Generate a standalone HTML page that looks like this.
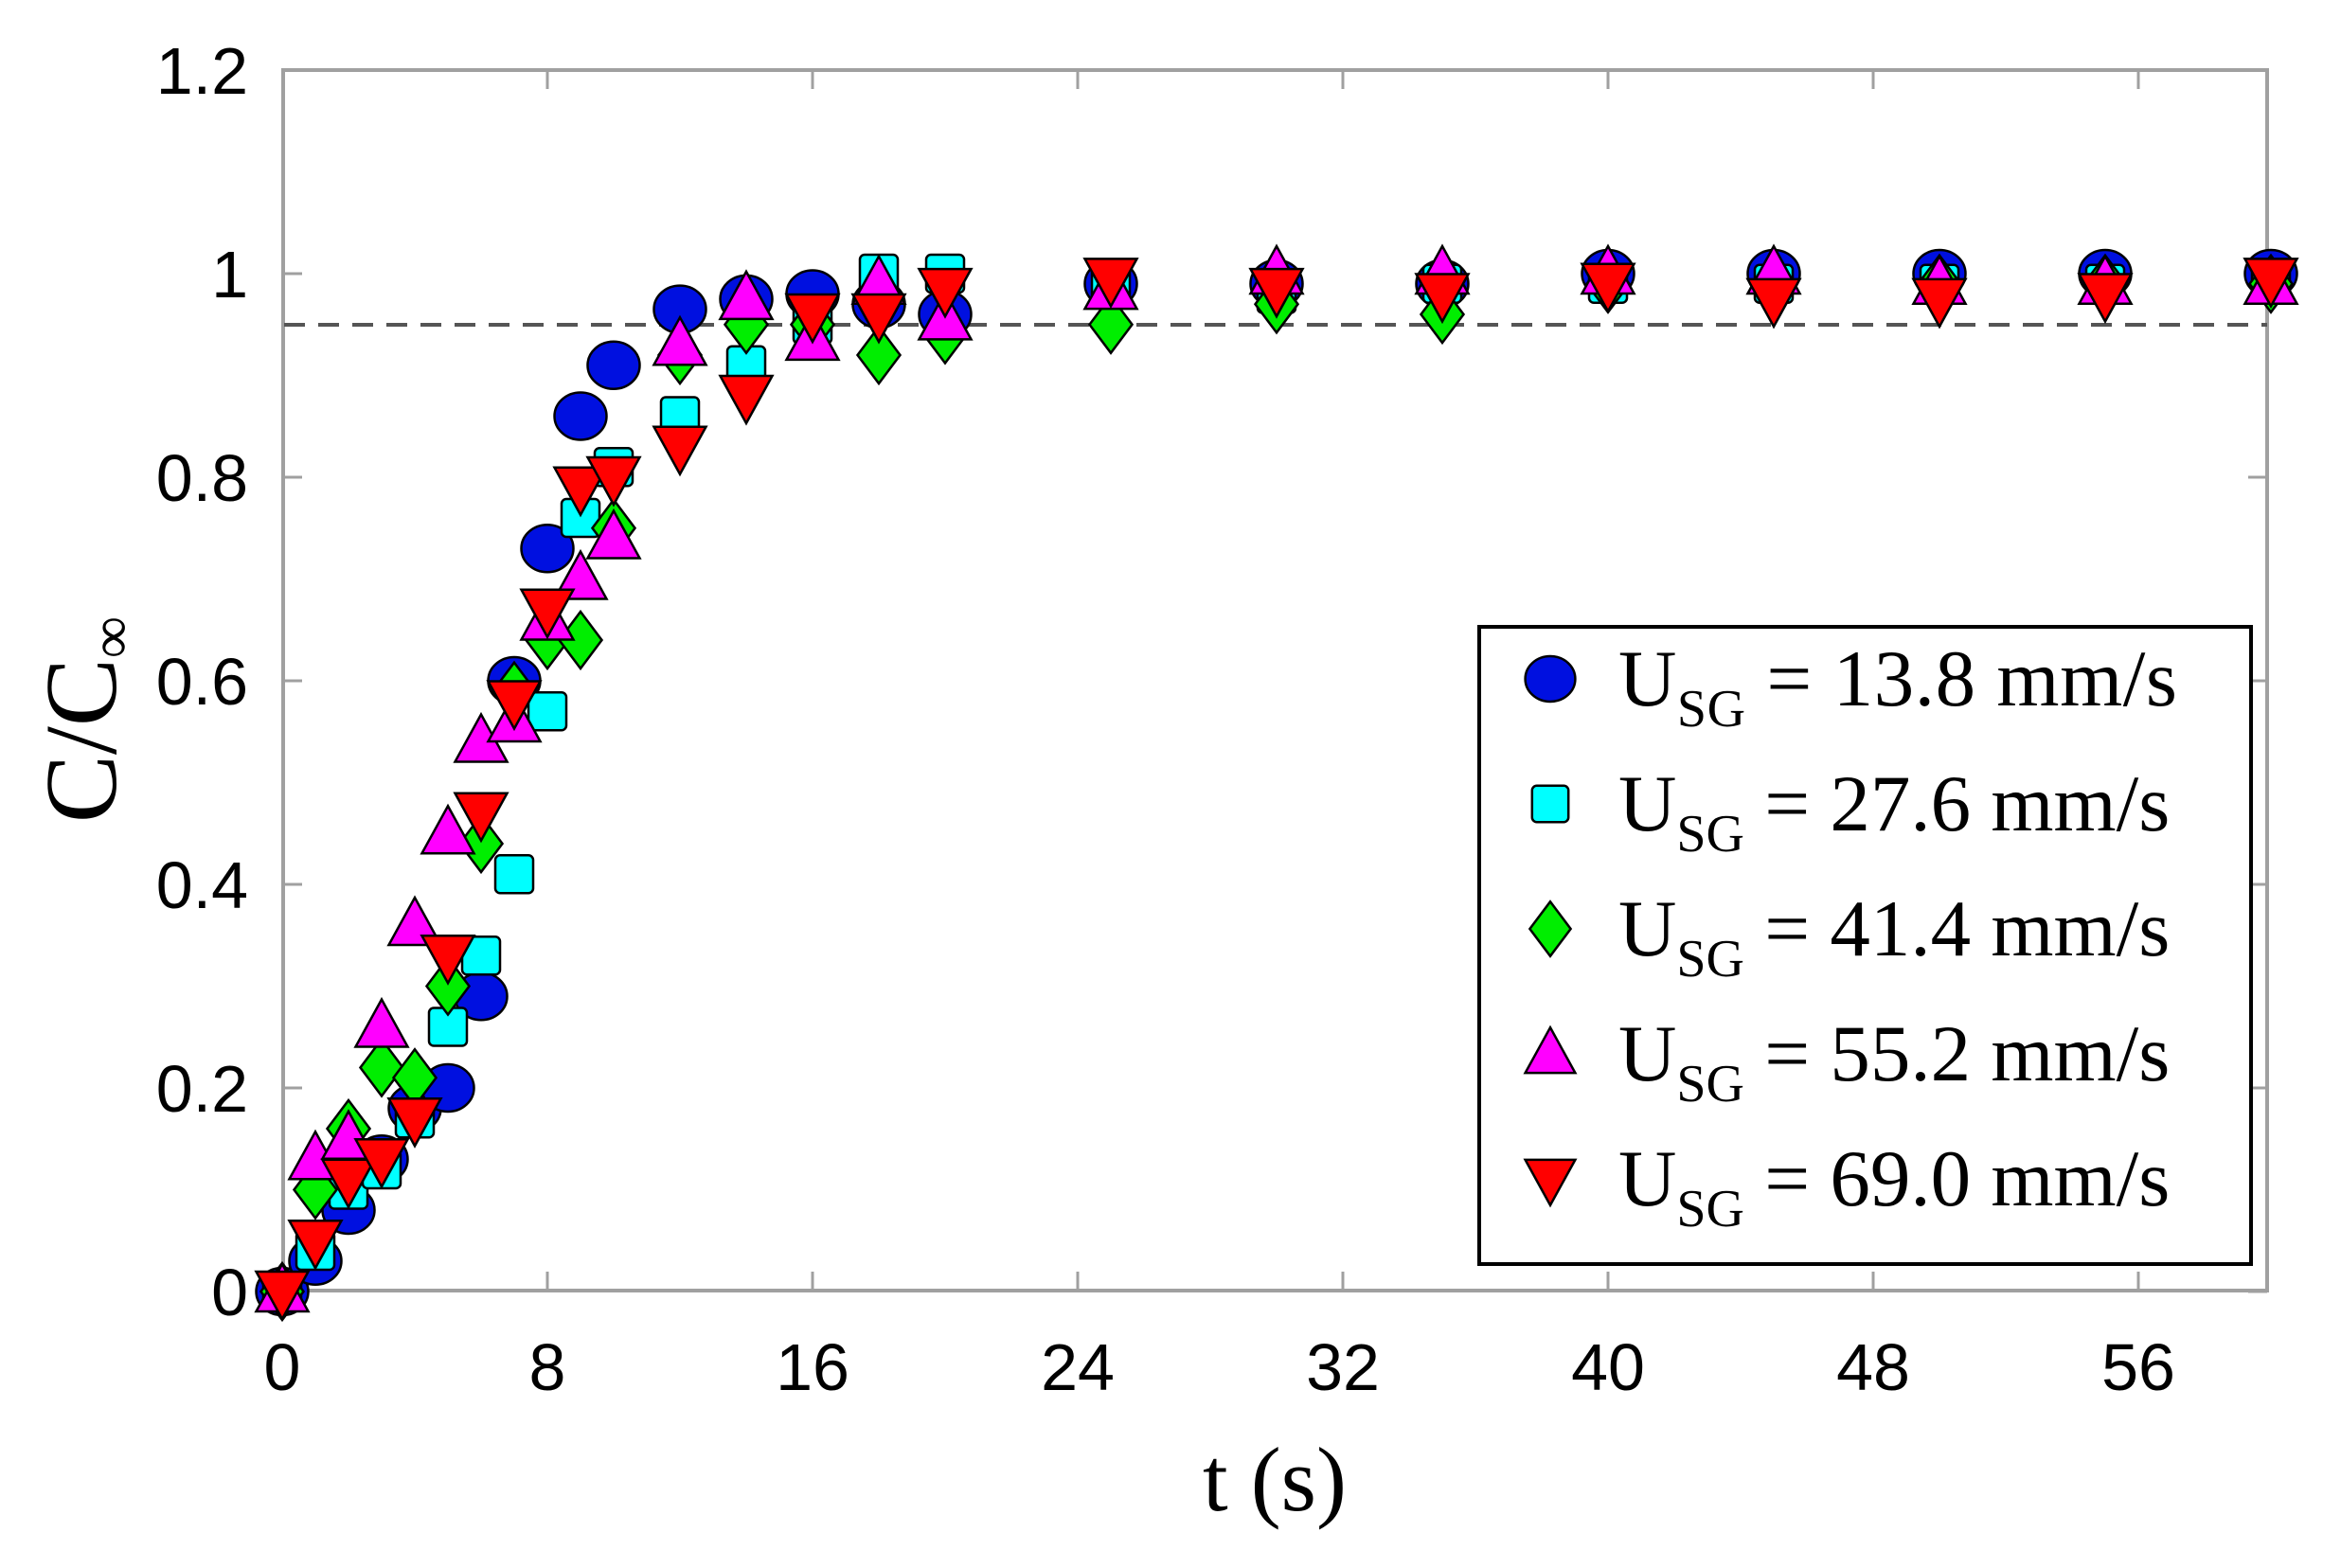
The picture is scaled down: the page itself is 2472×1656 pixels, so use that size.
<!DOCTYPE html>
<html><head><meta charset="utf-8"><style>
html,body{margin:0;padding:0;background:#fff;}
svg{display:block;}
</style></head><body>
<svg id="s" width="2472" height="1656" viewBox="0 0 2472 1656" xmlns="http://www.w3.org/2000/svg">
<rect width="2472" height="1656" fill="#fff"/>
<g id="axes"></g>
<line x1="300" y1="343" x2="2394" y2="343" stroke="#555" stroke-width="4" stroke-dasharray="22,14"/>
<g id="pts" stroke="#000" stroke-width="2.5"></g>
<rect x="1562" y="662" width="815" height="673" fill="#fff" stroke="#000" stroke-width="4"/>
<g id="leg" stroke="#000" stroke-width="2.5"></g>
<g font-family="'Liberation Serif',serif" font-size="85" fill="#000">
<text x="1709" y="745" textLength="590">U<tspan font-size="56" dy="22">SG</tspan><tspan dy="-22"> = 13.8 mm/s</tspan></text>
<text x="1709" y="877">U<tspan font-size="56" dy="22">SG</tspan><tspan dy="-22"> = 27.6 mm/s</tspan></text>
<text x="1709" y="1009">U<tspan font-size="56" dy="22">SG</tspan><tspan dy="-22"> = 41.4 mm/s</tspan></text>
<text x="1709" y="1141">U<tspan font-size="56" dy="22">SG</tspan><tspan dy="-22"> = 55.2 mm/s</tspan></text>
<text x="1709" y="1273">U<tspan font-size="56" dy="22">SG</tspan><tspan dy="-22"> = 69.0 mm/s</tspan></text>
<text x="1346" y="1595" text-anchor="middle" font-size="96">t (s)</text>
<text transform="translate(122,760) rotate(-90)" text-anchor="middle" font-size="108">C/C<tspan font-size="62" dy="16">∞</tspan></text>
</g>
<g id="lbl" font-family="'Liberation Sans',sans-serif" font-size="70" fill="#000"></g>
</svg>
<script>
const X=t=>298+t*35.0, Y=v=>1364-v*1075;
const ns="http://www.w3.org/2000/svg";
function el(p,tag,a,txt){const e=document.createElementNS(ns,tag);for(const k in a)e.setAttribute(k,a[k]);if(txt!=null)e.textContent=txt;p.appendChild(e);return e;}
const ax=document.getElementById('axes'), lb=document.getElementById('lbl');
el(ax,'rect',{x:299,y:74,width:2095,height:1289,fill:'none',stroke:'#a0a0a0','stroke-width':4});
for(let t=8;t<=56;t+=8){el(ax,'line',{x1:X(t),y1:1363,x2:X(t),y2:1343,stroke:'#a0a0a0','stroke-width':3});el(ax,'line',{x1:X(t),y1:74,x2:X(t),y2:94,stroke:'#a0a0a0','stroke-width':3});}
for(let t=0;t<=56;t+=8)el(lb,'text',{x:X(t),y:1468,'text-anchor':'middle'},String(t));
for(let i=0;i<=6;i++){const v=i*0.2,y=Y(v);el(ax,'line',{x1:299,y1:y,x2:319,y2:y,stroke:'#a0a0a0','stroke-width':3});el(ax,'line',{x1:2394,y1:y,x2:2374,y2:y,stroke:'#a0a0a0','stroke-width':3});
el(lb,'text',{x:262,y:y+25,'text-anchor':'end'},i==0?'0':i==5?'1':v.toFixed(1));}
const T=[0,1,2,3,4,5,6,7,8,9,10,12,14,16,18,20,25,30,35,40,45,50,55,60];
const D={
b:[0,.03,.08,.13,.18,.2,.29,.6,.73,.86,.91,.965,.975,.98,.97,.96,.99,.99,.99,1,1,1,1,1],
c:[0,.04,.1,.12,.17,.26,.33,.41,.57,.76,.81,.86,.91,.95,1,1,.99,.98,.99,.99,.99,.99,.99,.99],
g:[0,.1,.16,.22,.21,.3,.44,.59,.64,.64,.75,.92,.95,.95,.92,.94,.95,.97,.96,.99,.99,.99,.99,.99],
m:[0,.13,.15,.26,.36,.45,.54,.56,.66,.7,.74,.93,.975,.935,.99,.955,.985,1,1,1,1,.99,.99,.99],
r:[0,.05,.11,.13,.17,.33,.47,.58,.67,.79,.8,.83,.88,.96,.96,.985,.995,.985,.98,.99,.975,.975,.98,.995]};
function mk(p,k,x,y,s){
 if(k=='b')el(p,'ellipse',{cx:x,cy:y,rx:s*0.55,ry:s*0.5,fill:'#0010e0'});
 if(k=='c')el(p,'rect',{x:x-s*0.4,y:y-s*0.4,width:s*0.8,height:s*0.8,rx:5,fill:'#00ffff'});
 if(k=='g')el(p,'polygon',{points:`${x},${y-s*0.6} ${x+s*0.45},${y} ${x},${y+s*0.6} ${x-s*0.45},${y}`,fill:'#00ee00'});
 if(k=='m')el(p,'polygon',{points:`${x},${y-s*0.58} ${x+s*0.55},${y+s*0.42} ${x-s*0.55},${y+s*0.42}`,fill:'#ff00ff'});
 if(k=='r')el(p,'polygon',{points:`${x},${y+s*0.58} ${x+s*0.55},${y-s*0.42} ${x-s*0.55},${y-s*0.42}`,fill:'#ff0000'});
}
const P=document.getElementById('pts');
for(const k of ['b','c','g','m','r'])D[k].forEach((v,i)=>mk(P,k,X(T[i]),Y(v),50));
const L=document.getElementById('leg');
['b','c','g','m','r'].forEach((k,i)=>mk(L,k,1637,717+i*132,48));
</script>
</body></html>
